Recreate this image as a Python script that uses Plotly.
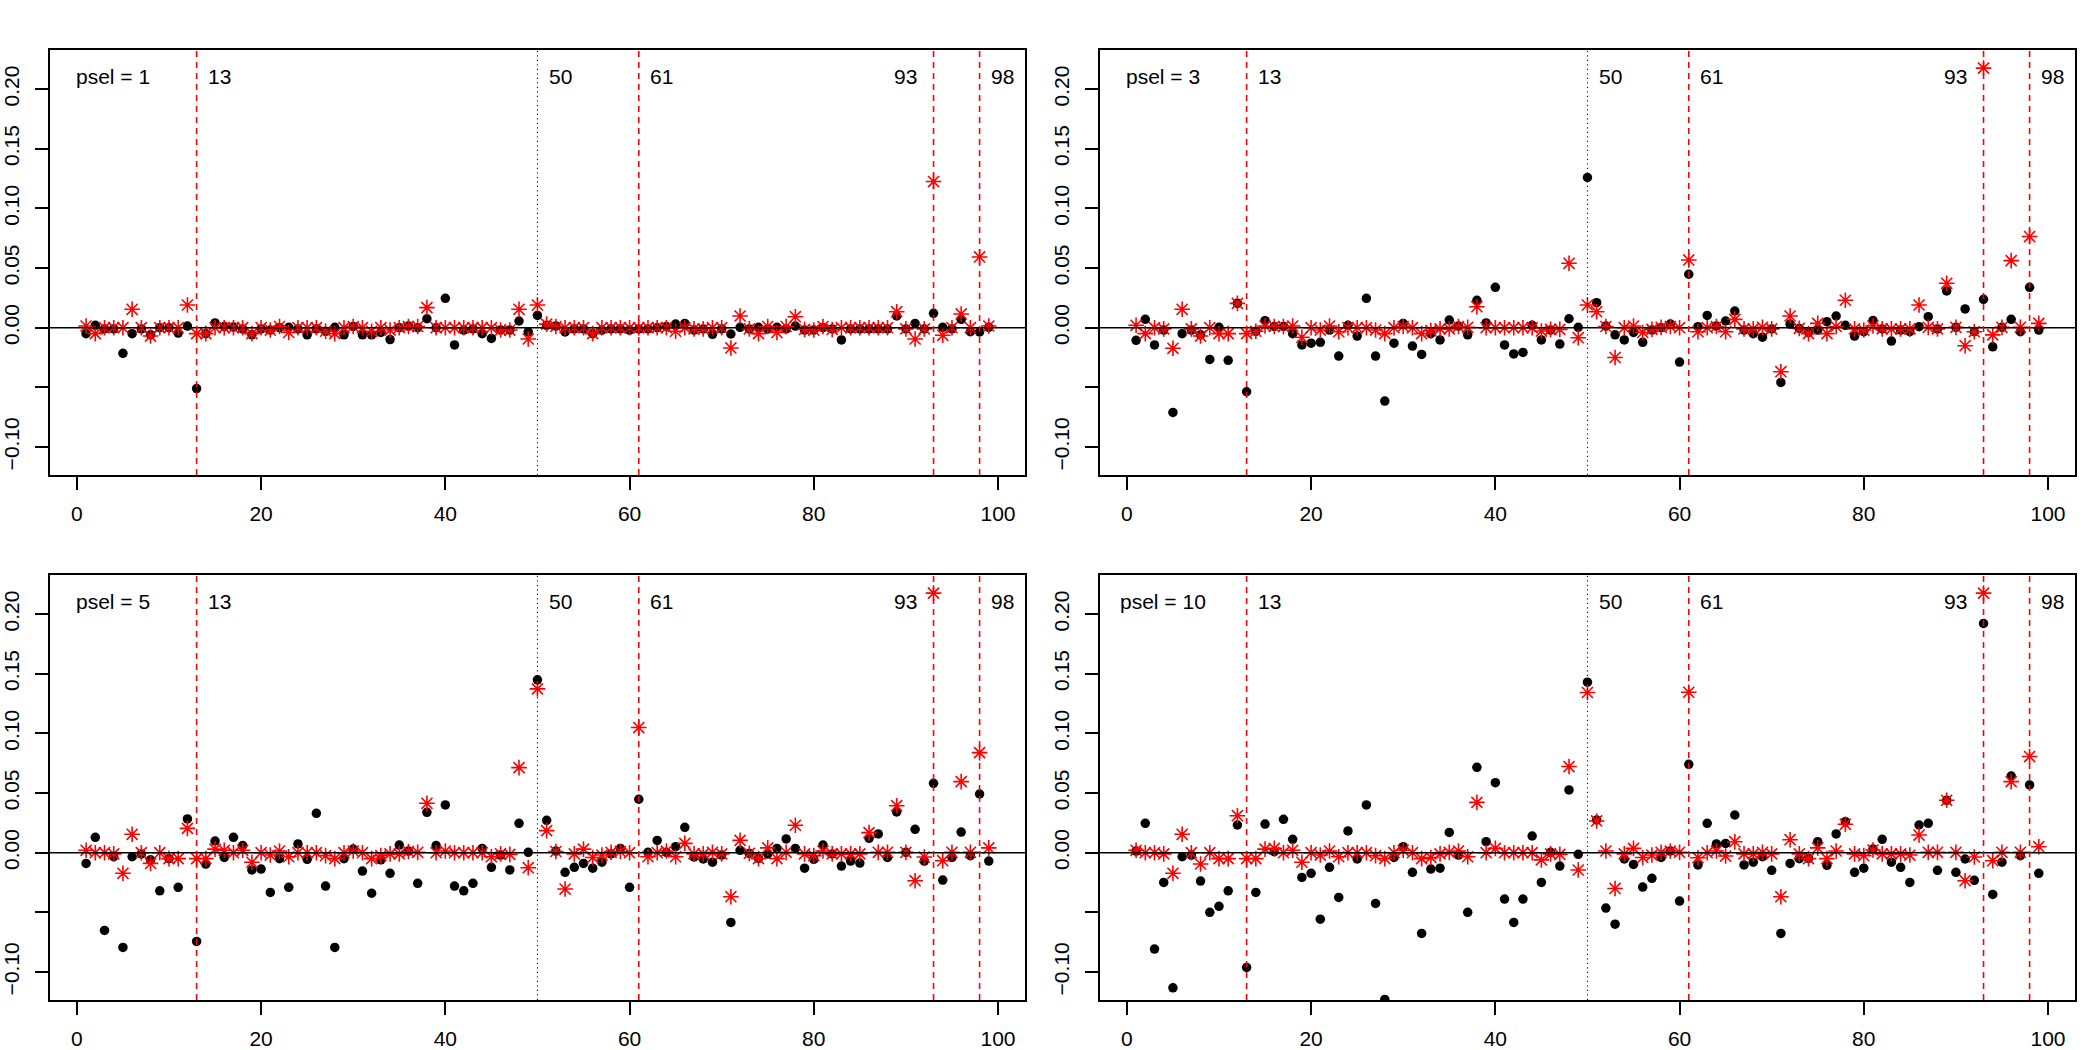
import plotly.graph_objects as go

idx = list(range(1, 100))

psel_labels = ["psel = 1", "psel = 3", "psel = 5", "psel = 10"]

black_p1 = [-0.005, 0.002, -0.001, -0.001, -0.0215, -0.005, -0.001, -0.006, 0.0, 0.0,
            -0.0045, 0.0014, -0.051, -0.005, 0.004, 0.001, 0.0005, -0.001, -0.006, -0.001,
            -0.002, 0.0, 0.0003, -0.001, -0.006, -0.001, -0.003, 0.0003, -0.006, 0.001,
            -0.006, -0.006, -0.004, -0.010, 0.0, 0.0014, 0.0, 0.0075, 0.0, 0.0246,
            -0.0145, -0.002, -0.001, -0.005, -0.009, -0.002, -0.002, 0.0056, -0.0036, 0.0103,
            0.002, 0.0014, -0.0036, -0.001, -0.001, -0.005, -0.002, -0.001, -0.001, -0.002,
            -0.001, -0.001, 0.0, 0.001, 0.003, 0.0036, -0.002, -0.001, -0.0056, -0.001,
            -0.0053, 0.0003, -0.001, 0.0003, -0.001, 0.0003, -0.001, 0.0014, -0.002, -0.002,
            0.0, -0.001, -0.0103, -0.001, -0.001, -0.001, -0.001, -0.001, 0.0098, -0.001,
            0.0036, -0.001, 0.012, 0.0003, -0.001, 0.007, -0.0034, -0.0036, 0.0003]
red_p1 = [0.0014, -0.005, 0.0, 0.0, 0.0, 0.0154, 0.0, -0.007, 0.0, 0.0,
          0.0, 0.019, -0.005, -0.005, 0.0, 0.0, 0.0, 0.0, -0.005, 0.0,
          -0.002, 0.001, -0.004, 0.0, 0.0, 0.0, -0.003, -0.005, 0.0, 0.001,
          0.0, -0.003, 0.0, -0.002, 0.0, 0.001, 0.001, 0.0168, 0.0, 0.0,
          0.0, 0.0, 0.0, 0.0, 0.0, -0.002, -0.002, 0.0154, -0.0095, 0.019,
          0.003, 0.001, 0.0, 0.0, 0.0, -0.005, 0.0, 0.0, 0.0, 0.0,
          0.0, 0.0, 0.0, 0.0, -0.003, 0.0, -0.001, -0.001, 0.0, 0.0,
          -0.017, 0.0098, -0.001, -0.005, 0.001, -0.004, 0.001, 0.0092, -0.0015, -0.002,
          0.001, -0.0015, 0.0, 0.0, 0.0, 0.0, 0.0, 0.0, 0.0134, -0.001,
          -0.0095, -0.001, 0.1225, -0.0064, 0.0, 0.0115, 0.0, 0.0593, 0.0014]

black_p3 = [-0.0106, 0.007, -0.0145, -0.002, -0.071, -0.005, -0.002, -0.006, -0.0266, 0.0003,
            -0.0274, 0.0204, -0.0537, -0.003, 0.0059, 0.001, 0.001, -0.005, -0.0145, -0.013,
            -0.0123, -0.002, -0.0238, 0.002, -0.007, 0.0246, -0.0238, -0.0615, -0.013, 0.0036,
            -0.0154, -0.0224, -0.005, -0.0103, 0.0064, 0.0014, -0.006, 0.023, 0.004, 0.0338,
            -0.0145, -0.022, -0.0207, 0.002, -0.0103, -0.002, -0.0137, 0.0075, 0.0003, 0.1259,
            0.021, 0.0014, -0.006, -0.0103, -0.004, -0.0123, -0.002, 0.0, 0.003, -0.0288,
            0.0448, 0.0008, 0.0103, 0.0014, 0.0056, 0.014, -0.002, -0.005, -0.008, -0.001,
            -0.0459, 0.003, -0.0006, -0.004, -0.002, 0.005, 0.0098, 0.002, -0.007, -0.0034,
            0.006, -0.001, -0.0112, -0.002, -0.0034, 0.0008, 0.0092, -0.001, 0.0308, 0.0003,
            0.0157, -0.0034, 0.0238, -0.016, 0.0003, 0.007, -0.0034, 0.0338, -0.002]
red_p3 = [0.002, -0.005, 0.0, -0.001, -0.0173, 0.0154, -0.001, -0.007, 0.0, -0.005,
          -0.005, 0.0204, -0.005, -0.003, 0.0014, 0.001, 0.001, 0.0014, -0.008, 0.0,
          -0.002, 0.0014, -0.0034, 0.0, 0.0, 0.0, -0.002, -0.005, 0.0, 0.001,
          0.0, -0.005, -0.0025, -0.001, -0.001, 0.001, 0.0003, 0.0176, 0.0, 0.0,
          0.0, 0.0, 0.0, 0.0, -0.0028, -0.0014, -0.0014, 0.054, -0.0084, 0.019,
          0.0134, 0.001, -0.025, 0.0, 0.0014, -0.004, -0.0014, 0.0003, 0.001, 0.0,
          0.0568, -0.0034, 0.0, 0.001, -0.0034, 0.007, -0.001, -0.001, 0.0003, -0.001,
          -0.0369, 0.0098, -0.0006, -0.005, 0.0036, -0.005, 0.001, 0.023, -0.001, -0.002,
          0.0014, -0.001, -0.001, -0.001, -0.001, 0.019, 0.0003, -0.001, 0.0372, 0.0003,
          -0.0151, -0.0034, 0.2176, -0.006, 0.0003, 0.0562, 0.0003, 0.0764, 0.0036]

black_p5 = [-0.009, 0.0129, -0.0652, -0.0034, -0.0794, -0.0034, -0.001, -0.006, -0.032, -0.005,
            -0.029, 0.0283, -0.0744, -0.0095, 0.0098, -0.004, 0.0129, 0.006, -0.0145, -0.0137,
            -0.0333, -0.005, -0.029, 0.0073, -0.0056, 0.033, -0.028, -0.0794, -0.005, 0.003,
            -0.0154, -0.034, -0.006, -0.0173, 0.0064, 0.0014, -0.0257, 0.0338, 0.006, 0.04,
            -0.028, -0.032, -0.0257, 0.0036, -0.0123, -0.002, -0.0145, 0.0246, 0.0003, 0.1449,
            0.0271, 0.0014, -0.0165, -0.0123, -0.009, -0.013, -0.008, -0.001, 0.0036, -0.029,
            0.0448, 0.0003, 0.0103, 0.0003, 0.005, 0.0213, -0.0036, -0.0053, -0.008, -0.002,
            -0.0585, 0.002, -0.0006, -0.0048, -0.001, 0.0036, 0.0115, 0.0036, -0.013, -0.0056,
            0.0064, -0.001, -0.0112, -0.007, -0.0087, 0.012, 0.0157, -0.004, 0.0341, 0.0003,
            0.0196, -0.007, 0.0582, -0.023, -0.004, 0.0173, -0.0025, 0.0492, -0.007]
red_p5 = [0.002, 0.0, 0.0, -0.001, -0.0173, 0.0154, 0.0, -0.009, 0.0, -0.005,
          -0.005, 0.0204, -0.005, -0.005, 0.003, 0.002, 0.0, 0.002, -0.008, 0.0,
          -0.002, 0.0014, -0.0034, 0.0, 0.0, 0.0, -0.0025, -0.005, 0.0, 0.0014,
          0.0, -0.005, -0.0025, -0.001, -0.001, 0.001, 0.0003, 0.0414, 0.0, 0.0014,
          0.0, 0.0, 0.0, 0.0, -0.0034, -0.001, -0.0014, 0.0713, -0.0126, 0.1373,
          0.0185, 0.001, -0.0305, -0.001, 0.003, -0.004, -0.002, 0.0003, 0.001, 0.0,
          0.1049, -0.0034, 0.0, 0.0014, -0.0034, 0.0078, -0.001, -0.001, 0.0003, -0.001,
          -0.0369, 0.0103, -0.0006, -0.005, 0.004, -0.005, 0.0003, 0.023, -0.001, -0.0025,
          0.0014, -0.001, -0.001, -0.001, -0.001, 0.0168, 0.0003, 0.0003, 0.0394, 0.0003,
          -0.0235, -0.0036, 0.2176, -0.0067, 0.0003, 0.0596, 0.0003, 0.0839, 0.004]

black_p10 = [0.0014, 0.0246, -0.0808, -0.0249, -0.1133, -0.0034, -0.002, -0.0238, -0.05, -0.045,
             -0.032, 0.0232, -0.0962, -0.0333, 0.024, 0.0008, 0.028, 0.0112, -0.0207, -0.0173,
             -0.0557, -0.0123, -0.0375, 0.0182, -0.0053, 0.04, -0.0425, -0.123, -0.004, 0.005,
             -0.0165, -0.0677, -0.0137, -0.013, 0.017, -0.002, -0.05, 0.0716, 0.0092, 0.0587,
             -0.0389, -0.0585, -0.0389, 0.014, -0.0249, 0.0003, -0.0112, 0.0526, -0.0014, 0.1429,
             0.0274, -0.0464, -0.0599, -0.0053, -0.0098, -0.0288, -0.0215, -0.004, 0.0014, -0.0406,
             0.0741, -0.0103, 0.0246, 0.0073, 0.0078, 0.0316, -0.0103, -0.008, -0.0034, -0.0148,
             -0.0677, -0.009, -0.005, -0.0048, 0.0092, -0.0106, 0.0157, 0.026, -0.0165, -0.013,
             0.003, 0.0112, -0.008, -0.0123, -0.0249, 0.0232, 0.0246, -0.0148, 0.0439, -0.0165,
             -0.0053, -0.0232, 0.1922, -0.035, -0.008, 0.0643, -0.0025, 0.0568, -0.0173]
red_p10 = [0.002, 0.0, 0.0, -0.001, -0.0173, 0.0154, 0.0, -0.0095, 0.0, -0.005,
           -0.005, 0.031, -0.005, -0.005, 0.003, 0.0036, 0.0, 0.002, -0.008, 0.0,
           -0.002, 0.0014, -0.0034, 0.0, 0.0, 0.0, -0.0025, -0.005, 0.0, 0.002,
           0.0, -0.005, -0.004, -0.001, 0.0003, 0.0014, -0.0034, 0.0422, 0.0, 0.0036,
           0.0, 0.0, 0.0, 0.0, -0.006, -0.001, -0.0014, 0.0722, -0.0145, 0.1343,
           0.0266, 0.0014, -0.03, -0.001, 0.0036, -0.004, -0.002, 0.0003, 0.0014, 0.0003,
           0.1345, -0.0042, 0.0, 0.0014, -0.0028, 0.0092, -0.001, -0.001, 0.0003, -0.001,
           -0.0369, 0.0109, -0.001, -0.005, 0.004, -0.005, 0.0014, 0.0238, -0.001, -0.0025,
           0.0022, -0.001, -0.001, -0.001, -0.002, 0.0148, 0.0003, 0.0003, 0.0439, 0.0003,
           -0.0235, -0.0036, 0.2176, -0.0067, 0.0003, 0.0596, 0.0003, 0.0806, 0.005]

red_lines = [13, 61, 93, 98]
dot_line = 50
line_labels = [13, 50, 61, 93, 98]

x_ticks = [0, 20, 40, 60, 80, 100]
y_ticks = [-0.10, -0.05, 0.00, 0.05, 0.10, 0.15, 0.20]
y_ticktext = ["\u22120.10", "", "0.00", "0.05", "0.10", "0.15", "0.20"]

blacks = [black_p1, black_p3, black_p5, black_p10]
reds = [red_p1, red_p3, red_p5, red_p10]

W, H = 2100, 1050
xdoms = [[49.7 / W, 1025 / W], [1099.7 / W, 2075 / W]]
ydoms = [[1 - 475 / H, 1 - 50 / H], [1 - 1000 / H, 1 - 575 / H]]
FONT = "Liberation Sans, Arial, Helvetica, sans-serif"
FS = 21

fig = go.Figure()
layout = dict(width=W, height=H, margin=dict(l=0, r=0, t=0, b=0),
              paper_bgcolor="white", plot_bgcolor="white", showlegend=False,
              font=dict(family=FONT, size=FS, color="black"))
shapes = []
annotations = []

for k in range(4):
    row, col = divmod(k, 2)
    n = k + 1
    xa = "x" if n == 1 else f"x{n}"
    ya = "y" if n == 1 else f"y{n}"
    fig.add_trace(go.Scatter(x=idx, y=blacks[k], mode="markers", xaxis=xa, yaxis=ya,
                             marker=dict(symbol="circle", size=9.5, color="black",
                                         line=dict(width=0))))
    fig.add_trace(go.Scatter(x=idx, y=reds[k], mode="markers", xaxis=xa, yaxis=ya,
                             marker=dict(symbol="asterisk-open", size=13,
                                         color="red", line=dict(width=1.6, color="red"))))
    axstyle = dict(showline=True, mirror=True, linecolor="black", linewidth=1.5,
                   ticks="outside", ticklen=13, tickwidth=1.5, tickcolor="black",
                   showgrid=False, zeroline=False, automargin=False,
                   tickfont=dict(family=FONT, size=FS, color="black"))
    layout["xaxis" if n == 1 else f"xaxis{n}"] = dict(
        axstyle, domain=xdoms[col], anchor=ya, range=[-2.95, 102.93],
        tickvals=x_ticks, ticktext=[str(t) for t in x_ticks], ticklabelstandoff=6)
    layout["yaxis" if n == 1 else f"yaxis{n}"] = dict(
        axstyle, domain=ydoms[row], anchor=xa, range=[-0.1235, 0.2328],
        tickvals=y_ticks, ticktext=y_ticktext, tickangle=-90, ticklabelstandoff=8)

    shapes.append(dict(type="line", xref=f"{xa} domain", yref=ya, x0=0, x1=1, y0=0, y1=0,
                       line=dict(color="black", width=1.5), layer="above"))
    for v in red_lines:
        shapes.append(dict(type="line", xref=xa, yref=f"{ya} domain", x0=v, x1=v, y0=0, y1=1,
                           line=dict(color="red", width=1.6, dash="6px,5px"), layer="above"))
    shapes.append(dict(type="line", xref=xa, yref=f"{ya} domain", x0=dot_line, x1=dot_line,
                       y0=0, y1=1, line=dict(color="black", width=1, dash="1.2px,3.3px"),
                       layer="above"))
    annotations.append(dict(text=psel_labels[k], xref=xa, yref=f"{ya} domain", x=3.87,
                            y=0.937, xanchor="center", yanchor="middle", showarrow=False,
                            font=dict(family=FONT, size=FS, color="black")))
    for v in line_labels:
        off = -3.0 if v == 93 else 2.45
        annotations.append(dict(text=str(v), xref=xa, yref=f"{ya} domain", x=v + off,
                                y=0.937, xanchor="center", yanchor="middle", showarrow=False,
                                font=dict(family=FONT, size=FS, color="black")))

layout["shapes"] = shapes
layout["annotations"] = annotations
fig.update_layout(**layout)
fig.write_html("out.html")
